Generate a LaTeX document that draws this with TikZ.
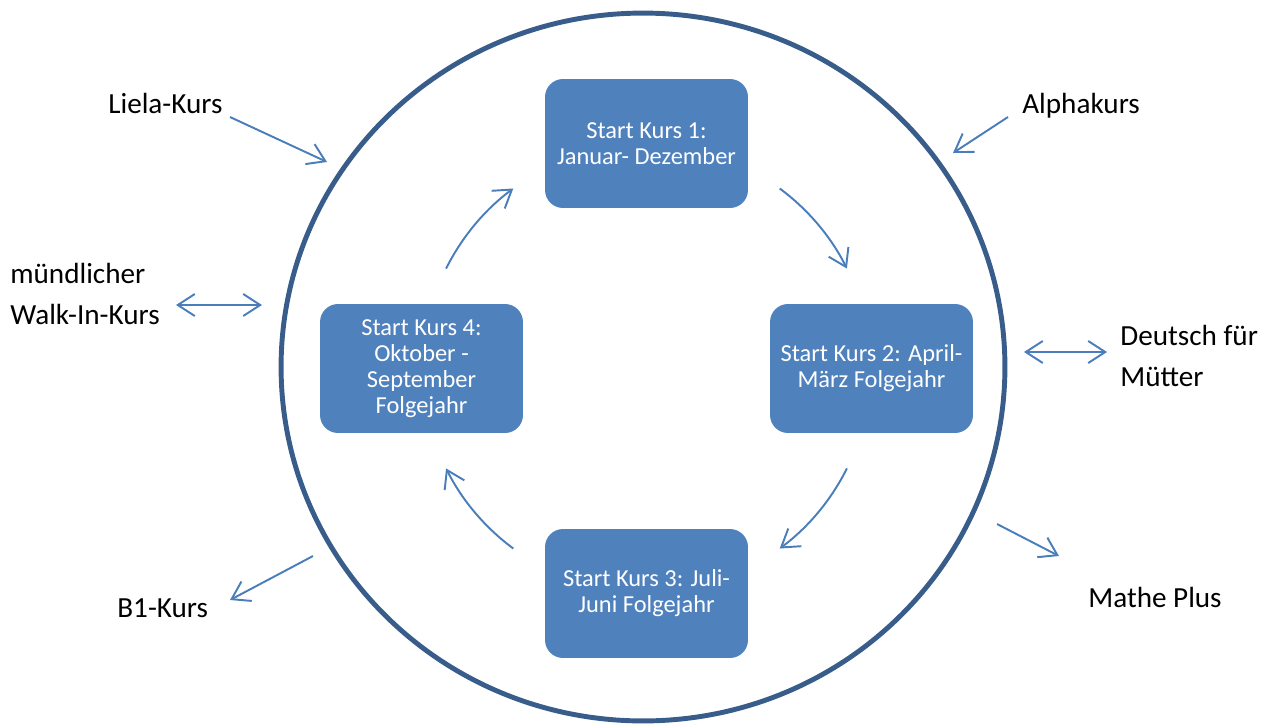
\documentclass[tikz,border=0pt]{standalone}
\usepackage{fontspec}
\setmainfont{Carlito}
\usetikzlibrary{arrows.meta,calc}

\definecolor{ringblue}{HTML}{385D8A}
\definecolor{boxblue}{HTML}{4F81BD}
\definecolor{arrblue}{HTML}{4A7EBB}

\begin{document}
\begin{tikzpicture}[
    x=0.02cm, y=-0.02cm,
    kurs/.style={rectangle, rounded corners=0.36cm, fill=boxblue, text=white,
                 align=center, minimum width=4.06cm, minimum height=2.58cm,
                 inner sep=2pt, font=\fontsize{13.9}{14.8}\selectfont},
    extra/.style={inner sep=0pt, align=left, font=\fontsize{16.6}{23.3}\selectfont},
    arr/.style={-{Straight Barb[length=3.4mm,width=4.4mm]}, arrblue, line width=1.1pt},
    darr/.style={{Straight Barb[length=3.4mm,width=4.4mm]}-{Straight Barb[length=3.4mm,width=4.4mm]},
                 arrblue, line width=1.1pt}
  ]
  \useasboundingbox (0,0) rectangle (1268,724);

  % ===== ring =====
  \coordinate (ring) at (643,367);
  \draw[ringblue, line width=2.8pt] (ring) ellipse [x radius=7.24cm, y radius=7.08cm];

  % ===== course cycle =====
  \coordinate (ctr) at (646.5,368.5);
  \node[kurs] (k1) at ($(ctr)+(0,-225)$) {Start Kurs 1:\\Januar- Dezember};
  \node[kurs] (k2) at ($(ctr)+(225,0)$)  {Start Kurs 2: April-\\März Folgejahr};
  \node[kurs] (k3) at ($(ctr)+(0,225)$)  {Start Kurs 3: Juli-\\Juni Folgejahr};
  \node[kurs] (k4) at ($(ctr)+(-225,0)$) {Start Kurs 4:\\Oktober -\\September\\Folgejahr};

  \draw[arr] ($(ctr)+(153.5:4.48cm)$) arc[start angle=153.5, end angle=126.5, radius=4.48cm];
  \draw[arr] ($(ctr)+(53.5:4.48cm)$)  arc[start angle=53.5,  end angle=26.5,  radius=4.48cm];
  \draw[arr] ($(ctr)+(-26.5:4.48cm)$) arc[start angle=-26.5, end angle=-53.5, radius=4.48cm];
  \draw[arr] ($(ctr)+(-126.5:4.48cm)$) arc[start angle=-126.5, end angle=-153.5, radius=4.48cm];

  % ===== further courses around the ring =====
  \node[extra, anchor=base west] (liela) at (108,113) {Liela-Kurs};
  \node[extra, anchor=base west] (alpha) at (1022,113) {Alphakurs};
  \node[extra, anchor=west] (walk) at (10,294) {mündlicher\\Walk-In-Kurs};
  \node[extra, anchor=west] (mutter) at (1120,356) {Deutsch für\\Mütter};
  \node[extra, anchor=base west] (b1) at (117,617) {B1-Kurs};
  \node[extra, anchor=base west] (mathe) at (1088,607) {Mathe Plus};

  \coordinate (lielaS) at (230,117);   \coordinate (lielaE) at (327,162);
  \coordinate (alphaS) at (1008,117);  \coordinate (alphaE) at (953,153);
  \coordinate (walkS) at (176,305);    \coordinate (walkE) at (262,305);
  \coordinate (mutterS) at (1024,352); \coordinate (mutterE) at (1107,352);
  \coordinate (b1S) at (313,556);      \coordinate (b1E) at (230,600);
  \coordinate (matheS) at (997,524);   \coordinate (matheE) at (1059,556);

  \draw[arr] (lielaS) -- (lielaE);
  \draw[arr] (alphaS) -- (alphaE);
  \draw[darr] (walkS) -- (walkE);
  \draw[darr] (mutterS) -- (mutterE);
  \draw[arr] (b1S) -- (b1E);
  \draw[arr] (matheS) -- (matheE);

\end{tikzpicture}
\end{document}
